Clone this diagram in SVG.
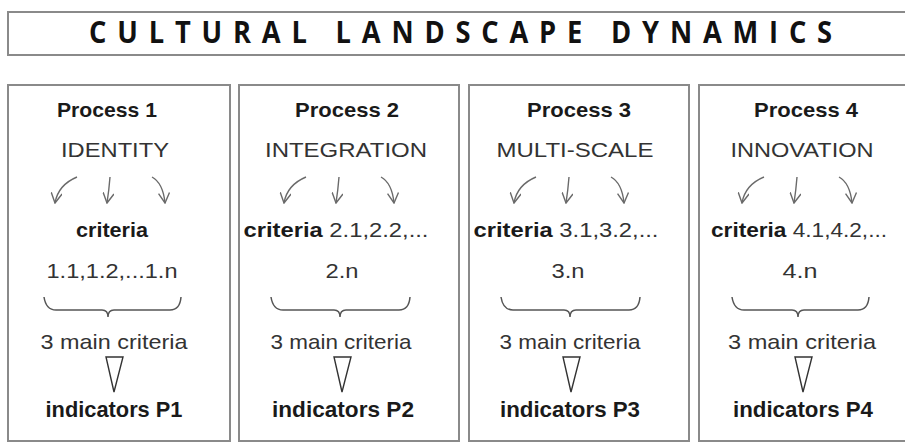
<svg xmlns="http://www.w3.org/2000/svg" width="905" height="442" viewBox="0 0 905 442">
<style>
.box{fill:#fff;stroke:#8a8a8a;stroke-width:2}
.proc{font-family:"Liberation Sans",Arial,sans-serif;font-weight:bold;font-size:21px;fill:#1a1a1a;text-anchor:middle}
.reg{font-family:"Liberation Sans",Arial,sans-serif;font-size:21px;fill:#333;text-anchor:middle}
.b{font-weight:bold;fill:#1a1a1a}
.ind{font-family:"Liberation Sans",Arial,sans-serif;font-weight:bold;font-size:22px;fill:#1a1a1a;text-anchor:middle}
.arr{fill:none;stroke:#6a6a6a;stroke-width:1.4;marker-end:url(#v)}
.brace{fill:none;stroke:#555;stroke-width:1.5}
.tri{fill:#fff;stroke:#333;stroke-width:1.4;stroke-linejoin:miter}
</style>
<defs>
<marker id="v" viewBox="0 0 12 12" refX="11" refY="6" markerWidth="12" markerHeight="12" markerUnits="userSpaceOnUse" orient="auto">
<path d="M1,0.5 L11,6 L1,11.5" fill="none" stroke="#6a6a6a" stroke-width="1.4"/>
</marker>
</defs>
<rect width="905" height="442" fill="#fff"/>
<g id="title">
<rect class="box" x="8" y="12" width="910" height="43"/>
<text x="0" y="0" transform="translate(466,43) scale(0.88,1)" font-family="Open Sans, Liberation Sans, sans-serif" font-weight="bold" font-size="31" fill="#111" text-anchor="middle" letter-spacing="12.3">CULTURAL  LANDSCAPE  DYNAMICS</text>
</g>
<g id="process1">
<rect class="box" x="8" y="85" width="222" height="356"/>
<text class="proc" x="107" y="117" textLength="100" lengthAdjust="spacingAndGlyphs">Process 1</text>
<text class="reg" x="115" y="157" textLength="108" lengthAdjust="spacingAndGlyphs">IDENTITY</text>
<text class="reg b" x="112" y="237" textLength="72" lengthAdjust="spacingAndGlyphs">criteria</text>
<text class="reg" x="112" y="278" textLength="131" lengthAdjust="spacingAndGlyphs">1.1,1.2,...1.n</text>
<text class="reg" x="114" y="349" textLength="147" lengthAdjust="spacingAndGlyphs">3 main criteria</text>
<text class="ind" x="114" y="417" textLength="137" lengthAdjust="spacingAndGlyphs">indicators P1</text>
</g>
<g id="process2">
<rect class="box" x="239" y="85" width="220" height="356"/>
<text class="proc" x="347" y="117" textLength="104" lengthAdjust="spacingAndGlyphs">Process 2</text>
<text class="reg" x="346" y="157" textLength="162" lengthAdjust="spacingAndGlyphs">INTEGRATION</text>
<text class="reg" x="336" y="237" textLength="185" lengthAdjust="spacingAndGlyphs"><tspan class="b">criteria</tspan> 2.1,2.2,...</text>
<text class="reg" x="342" y="278" textLength="33" lengthAdjust="spacingAndGlyphs">2.n</text>
<text class="reg" x="341" y="349" textLength="141" lengthAdjust="spacingAndGlyphs">3 main criteria</text>
<text class="ind" x="343" y="417" textLength="142" lengthAdjust="spacingAndGlyphs">indicators  P2</text>
</g>
<g id="process3">
<rect class="box" x="469" y="85" width="220" height="356"/>
<text class="proc" x="579" y="117" textLength="104" lengthAdjust="spacingAndGlyphs">Process 3</text>
<text class="reg" x="575" y="157" textLength="157" lengthAdjust="spacingAndGlyphs">MULTI-SCALE</text>
<text class="reg" x="566" y="237" textLength="185" lengthAdjust="spacingAndGlyphs"><tspan class="b">criteria</tspan> 3.1,3.2,...</text>
<text class="reg" x="568" y="278" textLength="33" lengthAdjust="spacingAndGlyphs">3.n</text>
<text class="reg" x="570" y="349" textLength="141" lengthAdjust="spacingAndGlyphs">3 main criteria</text>
<text class="ind" x="570" y="417" textLength="140" lengthAdjust="spacingAndGlyphs">indicators  P3</text>
</g>
<g id="process4">
<rect class="box" x="699" y="85" width="220" height="356"/>
<text class="proc" x="806" y="117" textLength="104" lengthAdjust="spacingAndGlyphs">Process 4</text>
<text class="reg" x="802" y="157" textLength="143" lengthAdjust="spacingAndGlyphs">INNOVATION</text>
<text class="reg" x="799" y="237" textLength="176" lengthAdjust="spacingAndGlyphs"><tspan class="b">criteria</tspan> 4.1,4.2,...</text>
<text class="reg" x="800" y="278" textLength="35" lengthAdjust="spacingAndGlyphs">4.n</text>
<text class="reg" x="802" y="349" textLength="148" lengthAdjust="spacingAndGlyphs">3 main criteria</text>
<text class="ind" x="803" y="417" textLength="140" lengthAdjust="spacingAndGlyphs">indicators  P4</text>
</g>
<g id="connectors">
<g transform="translate(0,0)">
<path class="arr" d="M77,177 Q58,185 55,203"/>
<path class="arr" d="M110,177 Q109,190 107,203"/>
<path class="arr" d="M152,177 Q163,183 165,203"/>
</g>
<g transform="translate(229,0)">
<path class="arr" d="M77,177 Q58,185 55,203"/>
<path class="arr" d="M110,177 Q109,190 107,203"/>
<path class="arr" d="M152,177 Q163,183 165,203"/>
</g>
<g transform="translate(459,0)">
<path class="arr" d="M77,177 Q58,185 55,203"/>
<path class="arr" d="M110,177 Q109,190 107,203"/>
<path class="arr" d="M152,177 Q163,183 165,203"/>
</g>
<g transform="translate(687,0)">
<path class="arr" d="M77,177 Q58,185 55,203"/>
<path class="arr" d="M110,177 Q109,190 107,203"/>
<path class="arr" d="M152,177 Q163,183 165,203"/>
</g>
<path class="brace" d="M44,297 Q46,310 56,310 L102,310 Q108,310 108,317 Q108,310 114,310 L170,310 Q180,310 181,297"/>
<path class="brace" d="M271,297 Q273,310 283,310 L334,310 Q340,310 340,317 Q340,310 346,310 L399,310 Q409,310 410,297"/>
<path class="brace" d="M501,297 Q503,310 513,310 L564,310 Q570,310 570,317 Q570,310 576,310 L629,310 Q639,310 640,297"/>
<path class="brace" d="M732,297 Q734,310 744,310 L792,310 Q798,310 798,317 Q798,310 804,310 L858,310 Q868,310 869,297"/>
<polygon class="tri" points="106,357 123,357 114,392"/>
<polygon class="tri" points="334,357 351,357 342,392"/>
<polygon class="tri" points="563,357 580,357 571,392"/>
<polygon class="tri" points="795,357 812,357 803,392"/>
</g>
</svg>
